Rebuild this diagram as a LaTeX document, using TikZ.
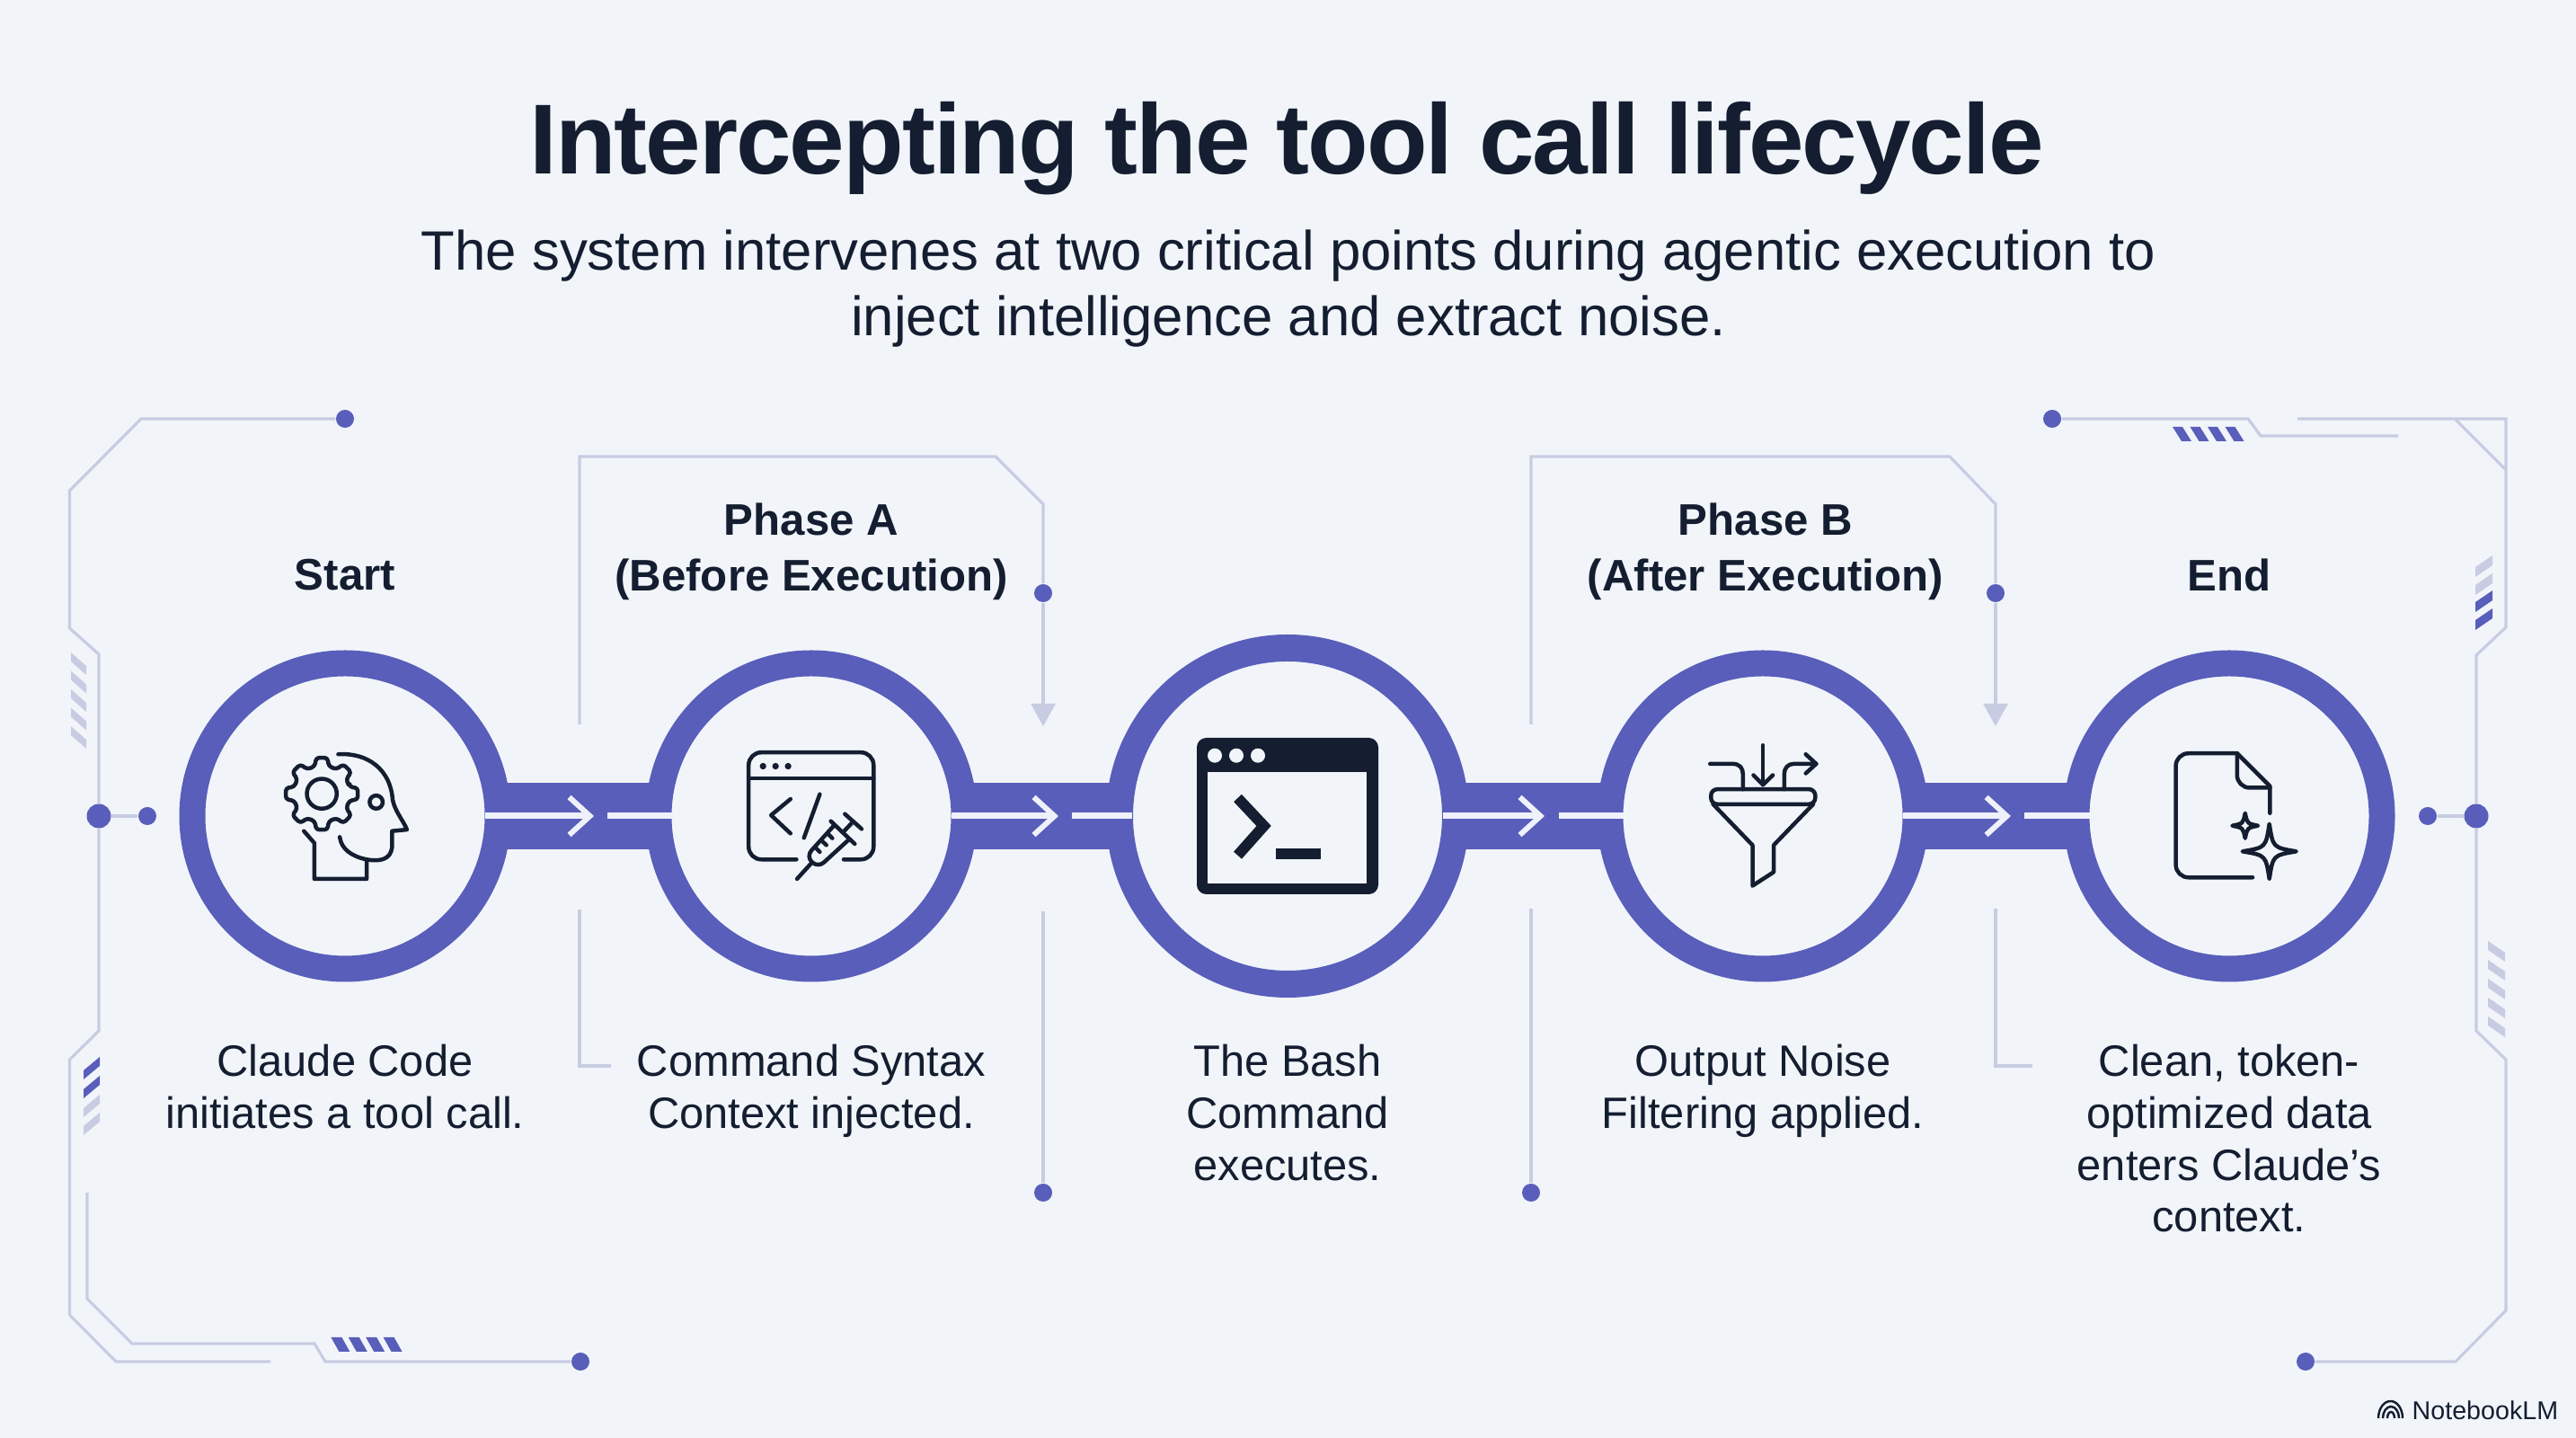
\documentclass[tikz,border=0pt]{standalone}
\usepackage{fontspec}
\setmainfont{Liberation Sans}
\usetikzlibrary{arrows.meta}
\definecolor{bgLight}{RGB}{241,245,250}
\definecolor{ringBlue}{RGB}{89,94,186}
\definecolor{traceGrey}{RGB}{200,204,226}
\definecolor{inkDark}{RGB}{20,30,48}
\definecolor{flowWhite}{RGB}{238,241,250}

\begin{document}
\begin{tikzpicture}
	\tikzset{ring/.style = {shape=circle,draw=ringBlue,fill=bgLight,line width=0.29cm,
			minimum size=3.40cm,inner sep=0pt}}
	\tikzset{ringBig/.style = {ring,line width=0.30cm,minimum size=3.74cm}}
	\tikzset{dot/.style = {shape=circle,fill=ringBlue,minimum size=0.20cm,inner sep=0pt}}
	\tikzset{dotBig/.style = {dot,minimum size=0.27cm}}
	\tikzset{trace/.style = {draw=traceGrey,line width=0.9pt}}
	\tikzset{traceEnd/.style = {trace,-{Triangle[length=2.5mm,width=2.7mm,color=traceGrey]}}}
	\tikzset{band/.style = {draw=ringBlue,line width=0.74cm,shorten <=-0.15cm,shorten >=-0.15cm}}
	\tikzset{flow/.style = {draw=flowWhite,line width=0.07cm}}
	\tikzset{flowTip/.style = {flow,shorten <=-0.29cm,
			-{Straight Barb[length=2.3mm,width=4.2mm,line width=0.06cm]}}}
	\tikzset{flowRest/.style = {flow,shorten >=-0.29cm}}
	\tikzset{iconLine/.style = {draw=inkDark,line width=0.045cm,line cap=round,line join=round}}
	\tikzset{iconFill/.style = {fill=inkDark}}
	\tikzset{iconScope/.style = {x=0.0033333cm,y=-0.0033333cm}}
	\tikzset{heading/.style = {text=inkDark,align=center,font=\fontsize{14}{17.6}\selectfont\bfseries}}
	\tikzset{caption/.style = {text=inkDark,align=center,font=\fontsize{13.9}{16.4}\selectfont}}

	% page
	\fill[bgLight] (0,0) rectangle (28.67,16);
	\useasboundingbox (0,0) rectangle (28.67,16);

	% title
	\node[text=inkDark,font=\fontsize{31.5}{36}\selectfont\bfseries\addfontfeature{LetterSpace=-1.8}] (title) at (14.32,14.35)
		{Intercepting the tool call lifecycle};
	\node[text=inkDark,align=center,font=\fontsize{17.55}{20.8}\selectfont] (subtitle) at (14.34,12.785)
		{The system intervenes at two critical points during agentic execution to\\
		inject intelligence and extract noise.};

	% vertices
	\node[ring] (a) at (3.84,6.92) {};
	\node[ring] (b) at (9.03,6.92) {};
	\node[ringBig] (c) at (14.33,6.92) {};
	\node[ring] (d) at (19.62,6.92) {};
	\node[ring] (e) at (24.81,6.92) {};

	\coordinate (tipAB) at (6.61,6.92);
	\coordinate (gapAB) at (6.76,6.92);
	\coordinate (tipBC) at (11.78,6.92);
	\coordinate (gapBC) at (11.93,6.92);
	\coordinate (tipCD) at (17.19,6.92);
	\coordinate (gapCD) at (17.35,6.92);
	\coordinate (tipDE) at (22.38,6.92);
	\coordinate (gapDE) at (22.53,6.92);

	%edges
	\draw[band] (a) to (b);
	\draw[band] (b) to (c);
	\draw[band] (c) to (d);
	\draw[band] (d) to (e);
	\draw[flowTip] (a) to (tipAB);
	\draw[flowRest] (gapAB) to (b);
	\draw[flowTip] (b) to (tipBC);
	\draw[flowRest] (gapBC) to (c);
	\draw[flowTip] (c) to (tipCD);
	\draw[flowRest] (gapCD) to (d);
	\draw[flowTip] (d) to (tipDE);
	\draw[flowRest] (gapDE) to (e);

	% labels
	\node[heading] (startLabel) at (3.84,9.60) {Start};
	\node[heading] (phaseALabel) at (9.03,9.865) {Phase A\\(Before Execution)};
	\node[heading] (phaseBLabel) at (19.65,9.865) {Phase B\\(After Execution)};
	\node[heading] (endLabel) at (24.81,9.60) {End};
	\node[caption,anchor=north] (startText) at (3.84,4.50) {Claude Code\\initiates a tool call.};
	\node[caption,anchor=north] (phaseAText) at (9.03,4.50) {Command Syntax\\Context injected.};
	\node[caption,anchor=north] (bashText) at (14.33,4.50) {The Bash\\Command\\executes.};
	\node[caption,anchor=north] (phaseBText) at (19.62,4.50) {Output Noise\\Filtering applied.};
	\node[caption,anchor=north] (endText) at (24.81,4.50) {Clean, token-\\optimized data\\enters Claude's\\context.};

	% frame dots
	\node[dot] (dotTopL) at (3.84,11.34) {};
	\node[dotBig] (dotMidL) at (1.10,6.92) {};
	\node[dot] (dotInL) at (1.64,6.92) {};
	\node[dot] (dotBotL) at (6.46,0.85) {};
	\node[dot] (dotTopR) at (22.84,11.34) {};
	\node[dotBig] (dotMidR) at (27.56,6.92) {};
	\node[dot] (dotInR) at (27.02,6.92) {};
	\node[dot] (dotBotR) at (25.66,0.85) {};
	\node[dot] (dotA) at (11.61,9.40) {};
	\node[dot] (dotC) at (11.61,2.73) {};
	\node[dot] (dotD) at (17.04,2.73) {};
	\node[dot] (dotB) at (22.21,9.40) {};

	% frame ends
	\coordinate (endBotL) at (3.01,0.85);
	\coordinate (startInL) at (0.97,2.73);
	\coordinate (endTopR) at (26.69,11.15);
	\coordinate (startTopR) at (25.57,11.34);
	\coordinate (cornerA) at (27.32,11.34);
	\coordinate (cornerB) at (27.89,10.77);
	\coordinate (phaseAUp) at (6.45,7.94);
	\coordinate (phaseADown) at (6.45,5.88);
	\coordinate (phaseAFoot) at (6.80,4.14);
	\coordinate (arrowA) at (11.61,7.92);
	\coordinate (midTop) at (11.61,5.86);
	\coordinate (phaseBUp) at (17.04,7.94);
	\coordinate (phaseBDown) at (17.04,5.89);
	\coordinate (phaseBFoot) at (22.62,4.14);
	\coordinate (phaseBLow) at (22.21,5.89);
	\coordinate (arrowB) at (22.21,7.92);

	% frame left
	\draw[trace] (dotTopL) -- (1.57,11.34) -- (0.775,10.54) -- (0.775,9.01) -- (1.10,8.72) -- (dotMidL);
	\draw[trace] (dotMidL) -- (1.10,4.53) -- (0.775,4.21) -- (0.775,1.37) -- (1.29,0.85) -- (endBotL);
	\draw[trace] (startInL) -- (0.97,1.55) -- (1.47,1.05) -- (3.50,1.05) -- (3.62,0.85) -- (dotBotL);
	\draw[trace] (dotMidL) to (dotInL);

	% frame right
	\draw[trace] (dotTopR) -- (25.02,11.34) -- (25.16,11.15) -- (endTopR);
	\draw[trace] (startTopR) -- (27.89,11.34) -- (27.89,9.02) -- (27.56,8.71) -- (dotMidR);
	\draw[trace] (dotMidR) -- (27.56,4.53) -- (27.89,4.21) -- (27.89,1.42) -- (27.33,0.85) -- (dotBotR);
	\draw[trace] (cornerA) to (cornerB);
	\draw[trace] (dotInR) to (dotMidR);

	% phase frames
	\draw[trace] (phaseAUp) -- (6.45,10.92) -- (11.08,10.92) -- (11.61,10.39) -- (dotA);
	\draw[traceEnd] (dotA) to (arrowA);
	\draw[trace] (phaseADown) -- (6.45,4.14) -- (phaseAFoot);
	\draw[trace] (midTop) to (dotC);
	\draw[trace] (phaseBUp) -- (17.04,10.92) -- (21.70,10.92) -- (22.21,10.39) -- (dotB);
	\draw[traceEnd] (dotB) to (arrowB);
	\draw[trace] (phaseBDown) to (dotD);
	\draw[trace] (phaseBLow) -- (22.21,4.14) -- (phaseBFoot);

	% stripes
	\foreach \y in {8.74,8.535,8.33,8.125,7.92}
		\fill[traceGrey] (0.79,\y) -- (0.96,\y-0.15) -- (0.96,\y-0.25) -- (0.79,\y-0.10) -- cycle;
	\foreach \y/\c in {4.24/ringBlue,4.03/ringBlue,3.82/traceGrey,3.62/traceGrey}
		\fill[\c] (1.11,\y) -- (0.93,\y-0.15) -- (0.93,\y-0.25) -- (1.11,\y-0.10) -- cycle;
	\foreach \x in {3.684,3.878,4.072,4.266}
		\fill[ringBlue] (\x,1.12) -- (\x+0.12,1.12) -- (\x+0.21,0.96) -- (\x+0.09,0.96) -- cycle;
	\foreach \x in {24.18,24.375,24.57,24.765}
		\fill[ringBlue] (\x,11.25) -- (\x+0.11,11.25) -- (\x+0.21,11.09) -- (\x+0.10,11.09) -- cycle;
	\foreach \y/\c in {9.82/traceGrey,9.62/traceGrey,9.43/ringBlue,9.23/ringBlue}
		\fill[\c] (27.74,\y) -- (27.55,\y-0.13) -- (27.55,\y-0.24) -- (27.74,\y-0.11) -- cycle;
	\foreach \y in {5.53,5.32,5.11,4.90,4.69}
		\fill[traceGrey] (27.69,\y) -- (27.88,\y-0.13) -- (27.88,\y-0.23) -- (27.69,\y-0.10) -- cycle;

	% head with gear
	\begin{scope}[shift={(2.80,8.00)},iconScope]
		\draw[iconLine] (290,118) .. controls (390,112) and (465,170) .. (472,270)
			.. controls (480,310) and (505,335) .. (520,370) -- (470,375) -- (470,430)
			.. controls (465,470) and (430,478) .. (385,470) .. controls (335,460) and (300,435) .. (295,395);
		\draw[iconLine] (175,375) -- (210,415) -- (210,535) -- (385,535) -- (385,470);
		\draw[iconLine] (417,278) circle (22);
		\draw[iconLine] (235,250) circle (50);
		\begin{scope}[shift={(235,250)}]
			\draw[iconLine,rounded corners=1pt] (-14:95) \foreach \a in {0,45,...,315}
				{ -- (\a-14:95) -- (\a-9:122) -- (\a+9:122) -- (\a+14:95) } -- cycle;
		\end{scope}
	\end{scope}

	% window with syringe
	\begin{scope}[shift={(7.80,8.20)},iconScope]
		\draw[iconLine,rounded corners=4pt] (320,530) -- (160,530) -- (160,172) -- (578,172) -- (578,530) -- (478,530);
		\draw[iconLine] (160,258) -- (578,258);
		\foreach \x in {208,250,292}
			\fill[iconFill] (\x,218) circle (11);
		\draw[iconLine] (300,328) -- (235,382) -- (300,443);
		\draw[iconLine] (398,312) -- (345,458);
		\draw[iconLine] (322,595) -- (372,540);
		\draw[iconLine,rounded corners=2.5pt] (447,415) -- (352,520) -- (392,558) -- (497,462);
		\draw[iconLine] (435,402) -- (515,478);
		\draw[iconLine] (475,440) -- (510,403);
		\draw[iconLine] (482,378) -- (538,428);
		\draw[iconLine] (424,443) -- (440,459);
		\draw[iconLine] (403,466) -- (420,482);
		\draw[iconLine] (382,489) -- (398,505);
	\end{scope}

	% terminal
	\fill[iconFill,rounded corners=3pt] (13.32,7.79) rectangle (15.34,6.05);
	\fill[bgLight] (13.44,7.41) rectangle (15.21,6.17);
	\foreach \x in {13.52,13.76,14.00}
		\fill[bgLight] (\x,7.593) circle (0.08);
	\draw[inkDark,line width=0.12cm] (13.775,7.12) -- (14.066,6.81) -- (13.775,6.483);
	\fill[iconFill] (14.20,6.56) rectangle (14.70,6.44);

	% funnel
	\begin{scope}[shift={(18.60,8.00)},iconScope]
		\draw[iconLine,rounded corners=2pt] (133,235) rectangle (482,285);
		\draw[iconLine] (140,285) -- (272,422) -- (272,558) -- (343,512) -- (343,422) -- (475,285);
		\draw[iconLine] (307,88) -- (307,220);
		\draw[iconLine] (275,188) -- (307,220) -- (340,188);
		\draw[iconLine] (130,150) -- (205,150) .. controls (230,150) and (240,165) .. (240,185) -- (240,235);
		\draw[iconLine] (378,235) -- (378,185) .. controls (378,165) and (390,150) .. (410,150) -- (485,150);
		\draw[iconLine] (450,118) -- (485,150) -- (450,182);
	\end{scope}

	% document with sparkles
	\begin{scope}[shift={(23.80,8.00)},iconScope]
		\draw[iconLine,rounded corners=4pt] (382,530) -- (125,530) -- (125,115) -- (330,115);
		\draw[iconLine] (330,115) -- (440,225) -- (440,315);
		\draw[iconLine,rounded corners=4pt] (330,115) -- (330,230) -- (440,230);
		\draw[iconLine] (357,315) .. controls (364,350) .. (400,357) .. controls (364,364) .. (357,399)
			.. controls (350,364) .. (314,357) .. controls (350,350) .. cycle;
		\draw[iconLine] (438,351) .. controls (450,430) .. (528,443) .. controls (450,456) .. (438,535)
			.. controls (426,456) .. (348,443) .. controls (426,430) .. cycle;
	\end{scope}

	% brand
	\draw[inkDark,line width=0.7pt] (26.47,0.22) arc[start angle=180,end angle=0,x radius=0.135,y radius=0.19];
	\draw[inkDark,line width=0.7pt] (26.52,0.22) arc[start angle=180,end angle=0,x radius=0.09,y radius=0.13];
	\draw[inkDark,line width=0.7pt] (26.57,0.22) arc[start angle=180,end angle=0,x radius=0.04,y radius=0.07];
	\node[text=inkDark,anchor=west,inner sep=0pt,font=\fontsize{8.15}{10}\selectfont] (brand) at (26.84,0.31) {NotebookLM};
\end{tikzpicture}
\end{document}
